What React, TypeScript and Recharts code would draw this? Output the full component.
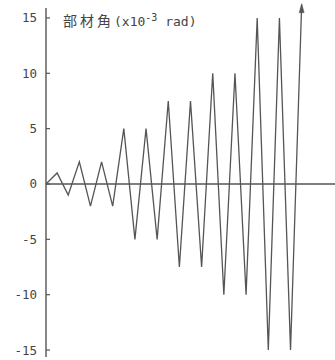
import React from "react";
import { LineChart, Line, XAxis, YAxis, ReferenceLine } from "recharts";

const steps = [0, 1, 2, 3, 4, 5, 6, 7, 8, 9, 10, 11, 12, 13, 14, 15, 16, 17, 18, 19, 20, 21, 22, 23];
const angles = [0, 1, -1, 2, -2, 2, -2, 5, -5, 5, -5, 7.5, -7.5, 7.5, -7.5, 10, -10, 10, -10, 15, -15, 15, -15, 16.2];
const yTicks = [-15, -10, -5, 0, 5, 10, 15];

const data = steps.map((s, i) => ({ step: s, angle: angles[i] }));

const INK = "#555";

const Tick = (props: any) => {
  const { x, y, payload } = props;
  return (
    <g>
      <line x1={x} x2={x + 4} y1={y} y2={y} stroke={INK} strokeWidth={1.2} />
      <text
        x={x - 9}
        y={y}
        dy={4.5}
        textAnchor="end"
        fontFamily="DejaVu Sans Mono"
        fontSize={12.5}
        fill="#444"
      >
        {payload.value}
      </text>
    </g>
  );
};

const ArrowDot = (props: any) => {
  const { cx, cy, index } = props;
  if (index !== steps.length - 1) return <g key={`d${index}`} />;
  return (
    <polygon
      key={`d${index}`}
      points={`${cx},${cy - 1} ${cx - 2.5},${cy + 8} ${cx + 2.5},${cy + 8}`}
      fill={INK}
      stroke={INK}
      strokeWidth={0.5}
    />
  );
};

export default function App() {
  return (
    <div style={{ position: "absolute", left: 0, top: 0, width: 335, height: 360, background: "#fff" }}>
      <LineChart width={335} height={360} data={data} margin={{ top: 4, right: 0, bottom: 3, left: 0 }}>
        <XAxis type="number" dataKey="step" domain={[0, 26]} hide />
        <YAxis
          type="number"
          domain={[-15.63, 16.26]}
          ticks={yTicks}
          width={46}
          axisLine={false}
          tickLine={false}
          tickSize={0}
          tickMargin={0}
          tick={<Tick />}
          interval={0}
        />
        <ReferenceLine
          segment={[{ x: 0, y: -15.63 }, { x: 0, y: 15.9 }]}
          stroke={INK}
          strokeWidth={1.4}
        />
        <ReferenceLine y={0} stroke={INK} strokeWidth={1.3} />
        <Line
          type="linear"
          dataKey="angle"
          stroke={INK}
          strokeWidth={1.3}
          dot={<ArrowDot />}
          activeDot={false}
          isAnimationActive={false}
        />
      </LineChart>
      <div
        style={{
          position: "absolute",
          left: 63,
          top: 9,
          fontSize: 14,
          lineHeight: "18px",
          color: "#444",
          whiteSpace: "nowrap",
        }}
      >
        <span style={{ fontFamily: "Noto Sans CJK JP", letterSpacing: 3 }}>部材角</span>
        <span style={{ fontFamily: "DejaVu Sans Mono", fontSize: 13 }}>
          (x10<sup style={{ fontSize: 10, verticalAlign: 5 }}>-3</sup> rad)
        </span>
      </div>
    </div>
  );
}
